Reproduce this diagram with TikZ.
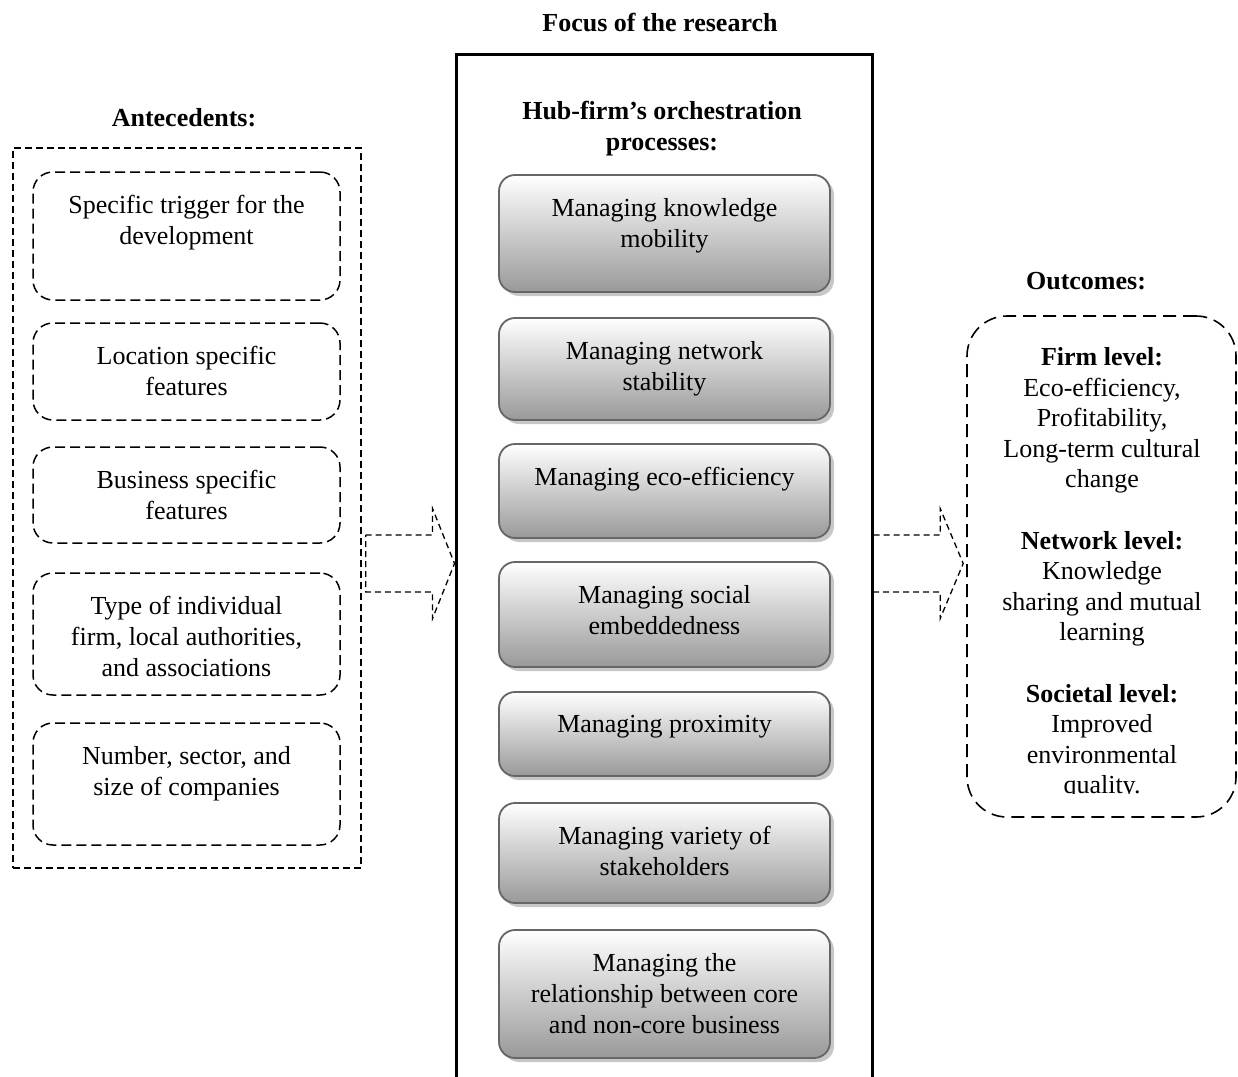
\documentclass[tikz,border=0pt]{standalone}
\usepackage{fontspec}
\setmainfont{Liberation Serif}
\usetikzlibrary{
	positioning,   %relative placement
	calc,          %coordinate arithmetic
	shadows        %drop shadows of the process boxes
}
\tikzset{
	heading/.style={font=\fontsize{26}{31}\selectfont\bfseries,align=center},
	boxtext/.style={anchor=north,yshift=-24pt,inner sep=0pt,align=center},
	antebox/.style={draw,line width=1.5pt,dash pattern=on 10pt off 5pt,
		rounded corners=20pt,minimum width=307pt,inner sep=0pt},
	procbox/.style={draw=black!60,line width=1.8pt,rounded corners=16pt,
		top color=white,bottom color=black!40,minimum width=331pt,inner sep=0pt,
		drop shadow={shadow xshift=4pt,shadow yshift=-4pt,fill=black!22,opacity=1}},
	blockarrow/.style={line width=1.3pt,dash pattern=on 6pt off 4pt,line join=miter}
}

\begin{document}
\begin{tikzpicture}[x=1pt,y=-1pt,font=\fontsize{26}{31}\selectfont]
\clip (0,0) rectangle (1238,1076);
% centre: focus of the research
\node[heading] (focustitle) at (660,23) {Focus of the research};
\node[draw,line width=3pt,minimum width=416pt,minimum height=1080pt,anchor=north] (focus) at (664,52.5) {};
\node[heading] (hubtitle) at (662,129) {Hub-firm’s orchestration\\processes:};
\node[procbox,minimum height=117pt,label={[boxtext]north:Managing knowledge\\mobility}] (kmob) at (664.5,233.5) {};
\node[procbox,minimum height=102pt,label={[boxtext]north:Managing network\\stability}] (nstab) at (664.5,369) {};
\node[procbox,minimum height=94pt,label={[boxtext]north:Managing eco-efficiency}] (ecoeff) at (664.5,491) {};
\node[procbox,minimum height=105pt,label={[boxtext]north:Managing social\\embeddedness}] (socemb) at (664.5,614.5) {};
\node[procbox,minimum height=84pt,label={[boxtext]north:Managing proximity}] (prox) at (664.5,734) {};
\node[procbox,minimum height=100pt,label={[boxtext]north:Managing variety of\\stakeholders}] (variety) at (664.5,853) {};
\node[procbox,minimum height=128pt,label={[boxtext]north:Managing the\\relationship between core\\and non-core business}] (corebiz) at (664.5,994) {};

% left: antecedents
\node[heading] (antetitle) at (184,118) {Antecedents:};
\node[draw,line width=1.3pt,dash pattern=on 7pt off 4pt,minimum width=348pt,minimum height=720pt] (ante) at (187,508) {};
\node[antebox,minimum height=128pt,label={[boxtext]north:Specific trigger for the\\development}] (trigger) at (186.5,236) {};
\node[antebox,minimum height=97pt,label={[boxtext]north:Location specific\\features}] (location) at (186.5,371.5) {};
\node[antebox,minimum height=96pt,label={[boxtext]north:Business specific\\features}] (business) at (186.5,495) {};
\node[antebox,minimum height=122pt,label={[boxtext]north:Type of individual\\firm, local authorities,\\and associations}] (firmtype) at (186.5,634) {};
\node[antebox,minimum height=122pt,label={[boxtext]north:Number, sector, and\\size of companies}] (companies) at (186.5,784) {};

% right: outcomes
\node[heading] (outtitle) at (1086,281) {Outcomes:};
\node[draw,line width=1.6pt,dash pattern=on 13pt off 7pt,rounded corners=40pt,minimum width=269pt,minimum height=501pt] (outc) at (1101.5,566.5) {};
\begin{scope}
\clip (outc.north west) rectangle (1238,793);
\node[align=center,font=\fontsize{26}{30.6}\selectfont] (outtext) at (1102,573.5) {\textbf{Firm level:}\\Eco-efficiency,\\Profitability,\\Long-term cultural\\change\\[30.6pt]\textbf{Network level:}\\Knowledge\\sharing and mutual\\learning\\[30.6pt]\textbf{Societal level:}\\Improved\\environmental\\quality.};
\end{scope}

% block arrows
\coordinate (ltail) at ([xshift=4pt]ante.east |- 0,563.5);
\coordinate (ltip) at (focus.west |- 0,563.5);
\coordinate (rtail) at (focus.east |- 0,563.5);
\coordinate (rtip) at ([xshift=-3pt]outc.west |- 0,563.5);
\draw[blockarrow] ($(ltail)+(0,-28.5)$) -- ($(ltip)+(-22,-28.5)$) -- ($(ltip)+(-22,-55)$) -- (ltip)
	-- ($(ltip)+(-22,55)$) -- ($(ltip)+(-22,28.5)$) -- ($(ltail)+(0,28.5)$) -- cycle;
\draw[blockarrow] ($(rtail)+(0,-28.5)$) -- ($(rtip)+(-23,-28.5)$) -- ($(rtip)+(-23,-55)$) -- (rtip)
	-- ($(rtip)+(-23,55)$) -- ($(rtip)+(-23,28.5)$) -- ($(rtail)+(0,28.5)$);
\end{tikzpicture}
\end{document}
